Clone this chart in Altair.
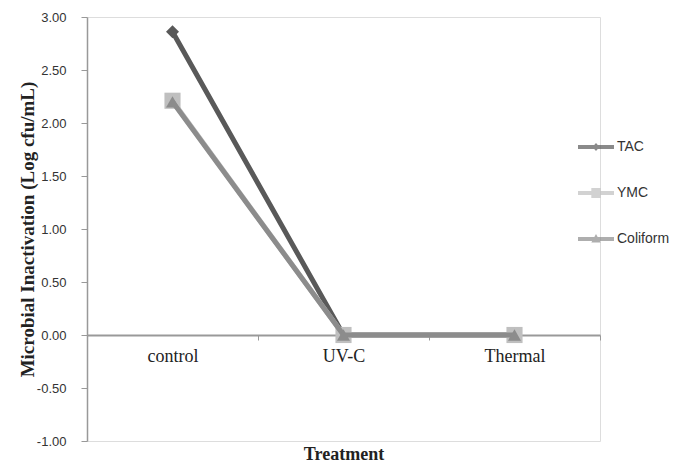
import altair as alt
import pandas as pd

treatments = ["control", "UV-C", "Thermal"]
series = ["TAC", "YMC", "Coliform"]
tac = [2.86, 0.0, 0.0]
ymc = [2.21, 0.0, 0.0]
coliform = [2.20, 0.0, 0.0]
colors = ["#595959", "#bfbfbf", "#8c8c8c"]
marker_shapes = ["diamond", "square", "triangle-up"]
marker_sizes = [170, 260, 170]
y_ticks = [-1.0, -0.5, 0.0, 0.5, 1.0, 1.5, 2.0, 2.5, 3.0]

legend_paths = [
    "M-1,-0.11H1V0.11H-1Z M0,-0.22L0.2,0L0,0.22L-0.2,0Z",
    "M-1,-0.11H1V0.11H-1Z M-0.26,-0.28H0.26V0.28H-0.26Z",
    "M-1,-0.11H1V0.11H-1Z M0,-0.28L0.26,0.2L-0.26,0.2Z",
]

rows = []
for s, vals in zip(series, [tac, ymc, coliform]):
    for t, v in zip(treatments, vals):
        rows.append({"Treatment": t, "Series": s, "value": v})
df = pd.DataFrame(rows)

W, H = 513, 424

x_enc = alt.X(
    "Treatment:N",
    sort=treatments,
    scale=alt.Scale(type="band", domain=treatments, paddingInner=0, paddingOuter=0),
    axis=alt.Axis(
        title="Treatment",
        orient="bottom",
        offset=-H / 4,
        tickBand="extent",
        labelAngle=0,
        labelFont="Liberation Serif",
        labelFontSize=18,
        labelColor="#222222",
        labelPadding=7,
        tickSize=5,
        tickColor="#999999",
        domainColor="#999999",
        domainWidth=2,
        titleFont="Liberation Serif",
        titleFontSize=18,
        titleFontWeight="bold",
        titleColor="#222222",
        titlePadding=80,
    ),
)
y_enc = alt.Y(
    "value:Q",
    scale=alt.Scale(domain=[-1, 3], nice=False, zero=False),
    axis=alt.Axis(
        title="Microbial Inactivation (Log cfu/mL)",
        values=y_ticks,
        labelExpr="replace(format(datum.value, '.2f'), '\u2212', '-')",
        grid=False,
        labelFont="Liberation Sans",
        labelFontSize=13,
        labelColor="#333333",
        labelPadding=15,
        tickSize=6,
        tickColor="#999999",
        domainColor="#999999",
        domainWidth=1.5,
        titleFont="Liberation Serif",
        titleFontSize=19,
        titleFontWeight="bold",
        titleColor="#222222",
        titlePadding=-1,
    ),
)

layers = []
for s, c, shp, sz in zip(series, colors, marker_shapes, marker_sizes):
    base = alt.Chart(df).transform_filter(alt.datum.Series == s)
    layers.append(base.mark_line(color=c, strokeWidth=5).encode(x=x_enc, y=y_enc))
    layers.append(
        base.mark_point(filled=True, opacity=1, color=c, shape=shp, size=sz).encode(x=x_enc, y=y_enc)
    )

legend_layer = (
    alt.Chart(df)
    .transform_filter(alt.datum.value > 100)
    .mark_point(filled=True, size=1296)
    .encode(
        x=x_enc,
        y=y_enc,
        color=alt.Color(
            "Series:N",
            scale=alt.Scale(domain=series, range=colors),
            legend=alt.Legend(
                title=None,
                orient="none",
                legendX=491,
                legendY=112,
                symbolSize=1296,
                symbolStrokeWidth=0,
                rowPadding=21,
                labelOffset=3,
                labelFont="Liberation Sans",
                labelFontSize=14,
                labelColor="#333333",
                padding=0,
            ),
        ),
        shape=alt.Shape("Series:N", scale=alt.Scale(domain=series, range=legend_paths)),
    )
)

chart = (
    alt.layer(*layers, legend_layer)
    .properties(width=W, height=H, padding={"left": 10, "top": 3, "right": 0, "bottom": 0})
    .configure_view(stroke=None)
    .configure(background="white")
)

chart.save("out.html", embed_options={"renderer": "svg", "actions": False})
